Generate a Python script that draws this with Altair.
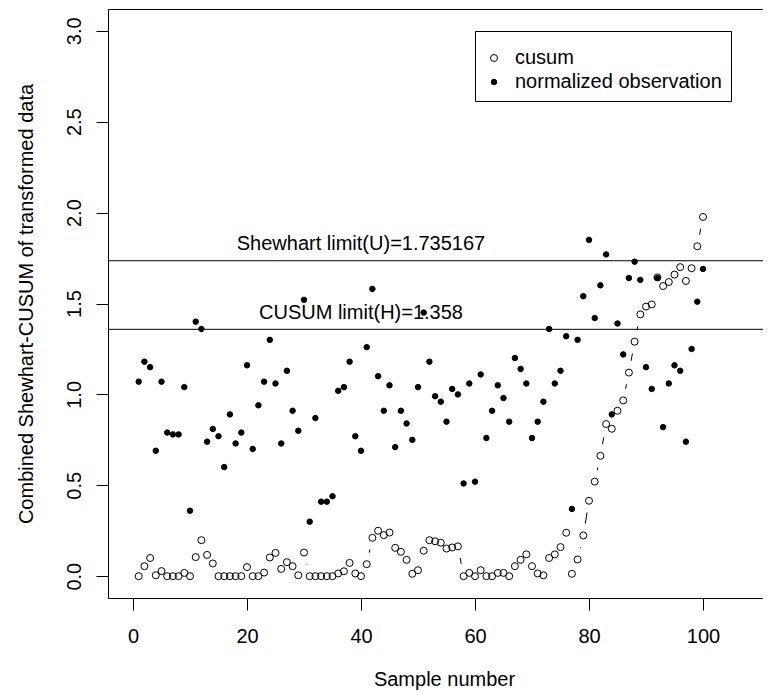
import altair as alt
import pandas as pd

samples = list(range(1, 101))

cusum = [
    0.000, 0.055, 0.100, 0.005, 0.028, 0.000, 0.000, 0.000, 0.018, 0.000,
    0.105, 0.198, 0.117, 0.070, 0.000, 0.000, 0.000, 0.000, 0.000, 0.050,
    0.000, 0.000, 0.020, 0.103, 0.128, 0.040, 0.077, 0.055, 0.005, 0.130,
    0.000, 0.000, 0.000, 0.000, 0.000, 0.015, 0.027, 0.073, 0.015, 0.000,
    0.066, 0.211, 0.250, 0.226, 0.240, 0.156, 0.134, 0.090, 0.013, 0.033,
    0.140, 0.198, 0.192, 0.184, 0.152, 0.158, 0.164, 0.000, 0.018, 0.000,
    0.033, 0.000, 0.000, 0.018, 0.018, 0.000, 0.055, 0.090, 0.120, 0.055,
    0.015, 0.005, 0.100, 0.120, 0.160, 0.239, 0.013, 0.092, 0.224, 0.415,
    0.520, 0.662, 0.837, 0.811, 0.910, 0.967, 1.120, 1.290, 1.440, 1.483,
    1.495, 1.644, 1.596, 1.618, 1.659, 1.700, 1.624, 1.694, 1.815, 1.976,
]

normalized = [
    1.07, 1.18, 1.15, 0.69, 1.07, 0.79, 0.78, 0.78, 1.04, 0.36,
    1.40, 1.36, 0.74, 0.81, 0.77, 0.60, 0.89, 0.73, 0.79, 1.16,
    0.70, 0.94, 1.07, 1.30, 1.06, 0.73, 1.13, 0.91, 0.80, 1.52,
    0.30, 0.87, 0.41, 0.41, 0.44, 1.02, 1.04, 1.18, 0.77, 0.69,
    1.26, 1.58, 1.10, 0.91, 1.05, 0.71, 0.91, 0.84, 0.75, 1.04,
    1.45, 1.18, 0.99, 0.96, 0.85, 1.03, 1.00, 0.51, 1.06, 0.52,
    1.11, 0.76, 0.91, 1.05, 0.98, 0.85, 1.20, 1.14, 1.06, 0.76,
    0.85, 0.96, 1.36, 1.06, 1.13, 1.32, 0.37, 1.30, 1.54, 1.85,
    1.42, 1.60, 1.77, 0.89, 1.39, 1.22, 1.64, 1.73, 1.63, 1.15,
    1.03, 1.64, 0.82, 1.06, 1.16, 1.13, 0.74, 1.25, 1.51, 1.69,
]

series_names = ["cusum", "normalized observation"]
limit_labels = ["Shewhart limit(U)=1.735167", "CUSUM limit(H)=1.358"]
limit_values = [1.735167, 1.358]
label_x = [40, 40]
label_y = [1.792, 1.415]
x_ticks = [0, 20, 40, 60, 80, 100]
y_ticks = [0.0, 0.5, 1.0, 1.5, 2.0, 2.5, 3.0]

FONT = "Liberation Sans"

cusum_df = pd.DataFrame({"sample": samples, "value": cusum})
long_df = pd.concat(
    [
        pd.DataFrame({"sample": samples, "value": cusum, "series": series_names[0]}),
        pd.DataFrame({"sample": samples, "value": normalized, "series": series_names[1]}),
    ],
    ignore_index=True,
)
limits_df = pd.DataFrame(
    {"limit": limit_values, "label": limit_labels, "lx": label_x, "ly": label_y}
)

xscale = alt.Scale(domain=[-4.386, 110.526], nice=False, zero=False)
yscale = alt.Scale(domain=[-0.12, 3.12], nice=False, zero=False)

yaxis = alt.Axis(
    values=y_ticks,
    format=".1f",
    title="Combined Shewhart-CUSUM of transformed data",
    labelAngle=270,
    labelAlign="center",
    labelBaseline="alphabetic",
    labelOverlap=False,
    titleAngle=270,
    titleX=-76,
    titleY=294.5,
    titleAlign="center",
    titleBaseline="alphabetic",
)


def ypos(field):
    return alt.Y(field, scale=yscale, axis=yaxis)


line = alt.Chart(cusum_df).mark_line(color="black", strokeWidth=1).encode(
    x=alt.X("sample:Q", scale=xscale, axis=None),
    y=ypos("value:Q"),
)

halo = alt.Chart(cusum_df).mark_circle(color="white", opacity=1, size=576).encode(
    x=alt.X("sample:Q", scale=xscale, axis=None),
    y=ypos("value:Q"),
)

legend = alt.Legend(
    title=" ",
    titleFontSize=6,
    titlePadding=2,
    orient="none",
    legendX=367,
    legendY=22,
    strokeColor="black",
    fillColor="white",
    padding=9,
    labelFontSize=20,
    labelFont=FONT,
    labelColor="black",
    labelLimit=400,
    symbolStrokeColor="black",
    symbolStrokeWidth=1,
    symbolType="circle",
    labelOffset=11,
    symbolOffset=0,
    rowPadding=4,
)

points = alt.Chart(long_df).mark_point(
    shape="circle", stroke="black", strokeWidth=1, opacity=1
).encode(
    x=alt.X(
        "sample:Q",
        scale=xscale,
        axis=alt.Axis(
            values=x_ticks,
            title="Sample number",
            orient="bottom",
            labelFlush=False,
            labelOverlap=False,
            labelBaseline="top",
            titleX=336,
            titleY=87,
            titleAlign="center",
            titleBaseline="alphabetic",
        ),
    ),
    y=ypos("value:Q"),
    fill=alt.Fill(
        "series:N",
        scale=alt.Scale(domain=series_names, range=["transparent", "black"]),
        legend=legend,
    ),
    stroke=alt.Stroke(
        "series:N",
        scale=alt.Scale(domain=series_names, range=["black", "black"]),
        legend=legend,
    ),
    size=alt.Size(
        "series:N",
        scale=alt.Scale(domain=series_names, range=[49, 30]),
        legend=legend,
    ),
)

rules = alt.Chart(limits_df).mark_rule(color="black", strokeWidth=1).encode(
    y=ypos("limit:Q"),
)

texts = alt.Chart(limits_df).mark_text(
    align="center", baseline="alphabetic", fontSize=20, font=FONT, color="black"
).encode(
    x=alt.X(
        "lx:Q",
        scale=xscale,
        axis=alt.Axis(orient="top", labels=False, ticks=False, domain=True, title=None, grid=False),
    ),
    y=ypos("ly:Q"),
    text="label:N",
)

chart = (
    alt.layer(line, halo, points, rules, texts)
    .resolve_axis(x="independent")
    .properties(
        width=655,
        height=589,
        padding={"left": 100, "top": 1, "right": 0, "bottom": 92},
        autosize=alt.AutoSizeParams(type="none"),
        background="white",
    )
    .configure_view(stroke=None)
    .configure_axis(
        labelFont=FONT,
        titleFont=FONT,
        labelFontSize=20,
        titleFontSize=20,
        titleFontWeight="normal",
        labelColor="black",
        titleColor="black",
        tickColor="black",
        domainColor="black",
        tickSize=12,
        tickWidth=1,
        domainWidth=1,
        labelPadding=16,
        grid=False,
    )
)

chart.save("out.html", embed_options={"renderer": "svg", "actions": False})
